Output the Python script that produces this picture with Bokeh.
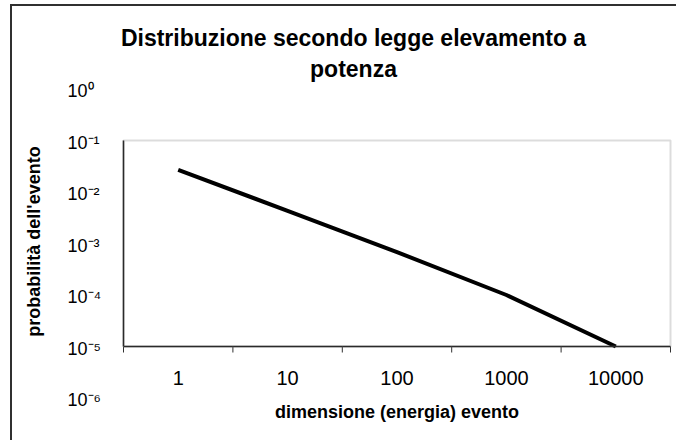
import math
import numpy as np
from bokeh.plotting import figure
from bokeh.models import Range1d, BoxAnnotation
from bokeh.core.properties import value
from bokeh.embed import file_html
from bokeh.resources import INLINE

# ---- data ----
categories = ["1", "10", "100", "1000", "10000"]
probabilities = [0.027, 0.0043, 0.00068, 0.0001, 0.00001]
y_tick_values = [1e0, 1e-1, 1e-2, 1e-3, 1e-4, 1e-5, 1e-6]
y_tick_labels = ["10⁰", "10⁻¹", "10⁻²", "10⁻³", "10⁻⁴", "10⁻⁵", "10⁻⁶"]
title_lines = ["Distribuzione secondo legge elevamento a", "potenza"]
x_title = "dimensione (energia) evento"
y_title = "probabilità dell'evento"

FONT = "Liberation Sans"
n = len(categories)
x_pos = [i + 0.5 for i in range(n)]

# ---- layout (page pixels) ----
CANVAS_X0, CANVAS_Y0 = 12, 6          # canvas origin on the page (after css margin+border)
W, H = 666, 436
L, R, T, B = 123, 670, 140, 346       # plot area on the page
Y_TOP, Y_BOT = 1e-1, 1e-5             # value range of the plot area
kx = (R - L) / n
dec = (B - T) / (math.log10(Y_TOP) - math.log10(Y_BOT))

def dx(px):
    return (px - L) / kx

def dy(py):
    return 10 ** (math.log10(Y_TOP) - (py - T) / dec)

p = figure(width=W, height=H, output_backend="svg", toolbar_location=None,
           x_range=Range1d(dx(CANVAS_X0), dx(CANVAS_X0 + W)),
           y_range=Range1d(dy(CANVAS_Y0 + H), dy(CANVAS_Y0)),
           y_axis_type="log", min_border=0,
           min_border_left=0, min_border_right=0, min_border_top=0, min_border_bottom=0)
p.title.visible = False
p.xaxis.visible = False
p.yaxis.visible = False
p.xgrid.visible = False
p.ygrid.visible = False
p.outline_line_color = None
p.background_fill_color = "white"
p.border_fill_color = "white"
p.styles = {"margin-left": "10px", "margin-top": "4px",
            "border-left": "2px solid #303030", "border-top": "2px solid #303030"}

# plot area frame (grey top/right, black axes left/bottom)
p.add_layout(BoxAnnotation(left=0, right=n, bottom=Y_BOT, top=Y_TOP,
                           fill_color=None, line_color="#8c8c8c", line_width=2))
p.segment(x0=[0, 0], y0=[Y_BOT, Y_BOT], x1=[0, n], y1=[Y_TOP, Y_BOT],
          line_color="black", line_width=1.5)
# x tick marks between categories
bounds = list(range(n + 1))
p.segment(x0=bounds, y0=[Y_BOT] * (n + 1), x1=bounds, y1=[dy(B + 6)] * (n + 1),
          line_color="#303030", line_width=1)

# data line
p.line(x_pos, probabilities, line_color="black", line_width=4)

# y tick labels
p.text(x=[dx(67)] * len(y_tick_values), y=[dy(B - (math.log10(v) - math.log10(Y_BOT)) * dec + 2) for v in y_tick_values],
       text=y_tick_labels, text_align="left", text_baseline="middle",
       text_font=value(FONT), text_font_size=value("18px"), text_color="black")

# x tick labels
p.text(x=x_pos, y=[dy(377)] * n, text=categories, text_align="center",
       text_baseline="middle", text_font=value(FONT), text_font_size=value("20px"),
       text_color="black")

# axis titles
p.text(x=[dx((L + R) / 2)], y=[dy(411)], text=[x_title], text_align="center",
       text_baseline="middle", text_font=value(FONT), text_font_size=value("18px"),
       text_font_style="bold", text_color="black")
p.text(x=[dx(33)], y=[dy(241)], text=[y_title], angle=math.pi / 2,
       text_align="center", text_baseline="middle", text_font=value(FONT),
       text_font_size=value("18px"), text_font_style="bold", text_color="black")

# chart title
p.text(x=[dx(353)] * 2, y=[dy(37), dy(68)], text=title_lines, text_align="center",
       text_baseline="middle", text_font=value(FONT), text_font_size=value("23px"),
       text_font_style="bold", text_color="black")

open("out.html", "w").write(file_html(p, INLINE))
